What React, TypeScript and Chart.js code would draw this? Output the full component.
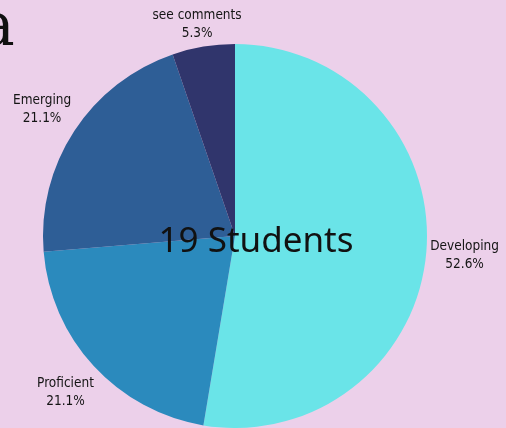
import React, { useEffect, useRef } from "react";
import { Chart, registerables } from "chart.js";

Chart.register(...registerables);

const categories = ["Developing", "Proficient", "Emerging", "see comments"];
const counts = [10, 4, 4, 1];
const colors = ["#6ae4e8", "#2b8abd", "#2e5e96", "#30356c"];
const centerLabel = "19 Students";
const BG = "#ecd0ea";
const LABEL_FONT = "'DejaVu Sans Condensed', 'Liberation Sans Narrow', 'Noto Sans', sans-serif";

const labelPlugin = {
  id: "outerLabels",
  afterDraw(chart: any) {
    const ctx = chart.ctx;
    const meta = chart.getDatasetMeta(0);
    const total = counts.reduce((a, b) => a + b, 0);
    ctx.save();
    // center text
    const area = chart.chartArea;
    const cx = (area.left + area.right) / 2;
    const cy = (area.top + area.bottom) / 2;
    ctx.fillStyle = "#111111";
    ctx.font = "35px 'Noto Sans', 'Open Sans', sans-serif";
    ctx.textAlign = "center";
    ctx.textBaseline = "middle";
    ctx.fillText(centerLabel, cx + 21, cy + 6);
    // outer labels
    ctx.font = "500 13.5px " + LABEL_FONT;
    ctx.fillStyle = "#151515";
    meta.data.forEach((arc: any, i: number) => {
      const mid = (arc.startAngle + arc.endAngle) / 2;
      const r = arc.outerRadius * 1.2;
      let x = arc.x + Math.cos(mid) * r;
      let y = arc.y + Math.sin(mid) * r;
      const lh = 18;
      if (y - lh < 6) y = 6 + lh;
      const pct = ((counts[i] / total) * 100).toFixed(1) + "%";
      ctx.fillText(categories[i], x, y - lh / 2);
      ctx.fillText(pct, x, y + lh / 2);
    });
    ctx.restore();
  },
};

export default function App() {
  const ref = useRef<HTMLCanvasElement>(null);
  useEffect(() => {
    if (!ref.current) return;
    const chart = new Chart(ref.current, {
      type: "pie",
      data: {
        labels: categories,
        datasets: [
          {
            data: counts,
            backgroundColor: colors,
            borderWidth: 0,
          },
        ],
      },
      options: {
        responsive: false,
        animation: false,
        layout: { padding: { top: 44, bottom: 0, left: 43, right: 79 } },
        plugins: {
          legend: { display: false },
          tooltip: { enabled: false },
        },
      },
      plugins: [labelPlugin],
    });
    return () => chart.destroy();
  }, []);
  return (
    <div
      style={{
        position: "fixed",
        left: 0,
        top: 0,
        width: 506,
        height: 428,
        background: BG,
        overflow: "hidden",
      }}
    >
      <div
        style={{
          position: "absolute",
          left: -21,
          top: -11,
          fontFamily: "'DejaVu Serif', 'Liberation Serif', serif",
          fontSize: 60,
          color: "#111111",
          lineHeight: "normal",
        }}
      >
        a
      </div>
      <canvas ref={ref} width={506} height={428} style={{ display: "block" }} />
    </div>
  );
}
